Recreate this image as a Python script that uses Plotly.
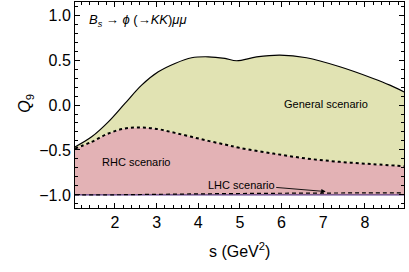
import plotly.graph_objects as go

# ---- data ----
s_general = [1.04, 1.44, 1.84, 2.24, 2.64, 3.04, 3.44, 3.84, 4.24, 4.64, 4.92, 5.4, 5.96, 6.6, 7.4, 8.2, 8.6, 8.94]
q_general = [-0.466, -0.354, -0.188, 0.017, 0.221, 0.369, 0.462, 0.525, 0.536, 0.518, 0.492, 0.534, 0.555, 0.525, 0.425, 0.295, 0.221, 0.146]

s_rhc = [1.04, 1.44, 1.84, 2.24, 2.64, 3.04, 3.44, 3.84, 4.24, 4.64, 5.0, 5.8, 6.6, 7.4, 8.2, 8.94]
q_rhc = [-0.484, -0.41, -0.317, -0.261, -0.25, -0.269, -0.31, -0.354, -0.399, -0.439, -0.477, -0.54, -0.595, -0.632, -0.658, -0.68]

s_lhc = [1.04, 2, 3, 4, 5, 6, 7, 8, 8.94]
q_lhc = [-1.0, -0.998, -0.993, -0.988, -0.984, -0.981, -0.979, -0.977, -0.976]

s_base = [1.04, 8.94]
q_base = [-1.0, -1.0]

x_tickvals = [2, 3, 4, 5, 6, 7, 8]
y_tickvals = [-1.0, -0.5, 0.0, 0.5, 1.0]
y_ticktext = ["\u22121.0", "\u22120.5", "0.0", "0.5", "1.0"]

arrow_tip = (7.06, -0.962)

KHAKI = "#E1E3B3"
PINK = "#E3B2B5"
FONT = "Liberation Sans, Arial, sans-serif"

fig = go.Figure()

# fills
fig.add_trace(go.Scatter(x=s_base, y=q_base, mode="lines", line=dict(width=0), showlegend=False, hoverinfo="skip"))
fig.add_trace(go.Scatter(x=s_rhc, y=q_rhc, mode="lines", line=dict(width=0, shape="spline"),
                         fill="tonexty", fillcolor=PINK, showlegend=False, hoverinfo="skip"))
fig.add_trace(go.Scatter(x=s_general, y=q_general, mode="lines", line=dict(width=0, shape="spline"),
                         fill="tonexty", fillcolor=KHAKI, showlegend=False, hoverinfo="skip"))

# lines
fig.add_trace(go.Scatter(x=s_base, y=q_base, mode="lines", line=dict(color="#5E3C86", width=1.3), showlegend=False))
fig.add_trace(go.Scatter(x=s_lhc, y=q_lhc, mode="lines", line=dict(color="black", width=1.2, dash="4px,3px", shape="spline"), showlegend=False))
fig.add_trace(go.Scatter(x=s_rhc, y=q_rhc, mode="lines", line=dict(color="black", width=2, dash="dot", shape="spline"), showlegend=False))
fig.add_trace(go.Scatter(x=s_general, y=q_general, mode="lines", line=dict(color="black", width=1.2, shape="spline"), showlegend=False))

axis_common = dict(
    showline=True, linecolor="black", linewidth=1, mirror="allticks",
    ticks="inside", ticklen=5, tickwidth=1, tickcolor="black",
    showgrid=False, zeroline=False,
    tickfont=dict(family=FONT, size=16, color="black"),
)

fig.update_xaxes(range=[1.04, 8.94], tickvals=x_tickvals,
                 minor=dict(dtick=0.2, tick0=0, ticks="inside", ticklen=3, tickcolor="black", showgrid=False),
                 **axis_common)
fig.update_yaxes(range=[-1.145, 1.145], tickvals=y_tickvals, ticktext=y_ticktext,
                 minor=dict(dtick=0.1, tick0=0, ticks="inside", ticklen=3, tickcolor="black", showgrid=False),
                 **axis_common)

ann_font = dict(family=FONT, size=11, color="black")
fig.update_layout(
    width=409, height=272,
    margin=dict(l=75, r=4.5, t=2, b=64.3),
    paper_bgcolor="white", plot_bgcolor="white",
    showlegend=False,
    annotations=[
        dict(text="<i>B<sub>s</sub></i> \u2192 <i>\u03d5</i> (\u2192<i>KK</i>)<i>\u03bc\u03bc</i>",
             xref="paper", yref="paper", x=0.036, y=0.908, xanchor="left", yanchor="middle",
             showarrow=False, font=dict(family=FONT, size=13, color="black")),
        dict(text="General scenario", xref="x", yref="y", x=7.06, y=0.015,
             showarrow=False, font=ann_font),
        dict(text="RHC scenario", xref="x", yref="y", x=2.5, y=-0.63,
             showarrow=False, font=ann_font),
        dict(text="LHC scenario", xref="x", yref="y", x=arrow_tip[0], y=arrow_tip[1],
             ax=-84.5, ay=-7, showarrow=True, arrowhead=2, arrowsize=1, arrowwidth=0.9,
             arrowcolor="black", font=ann_font),
        dict(text="<i>Q</i><sub>9</sub>", xref="paper", yref="paper", x=-0.185, y=0.509,
             textangle=-90, showarrow=False, font=dict(family=FONT, size=16, color="black")),
        dict(text="s (GeV<sup>2</sup>)", xref="paper", yref="paper", x=0.5, y=-0.264,
             showarrow=False, font=dict(family=FONT, size=16, color="black")),
    ],
)

fig.write_html("out.html", config={"displayModeBar": False},
               post_script="document.body.style.margin='0px';")
